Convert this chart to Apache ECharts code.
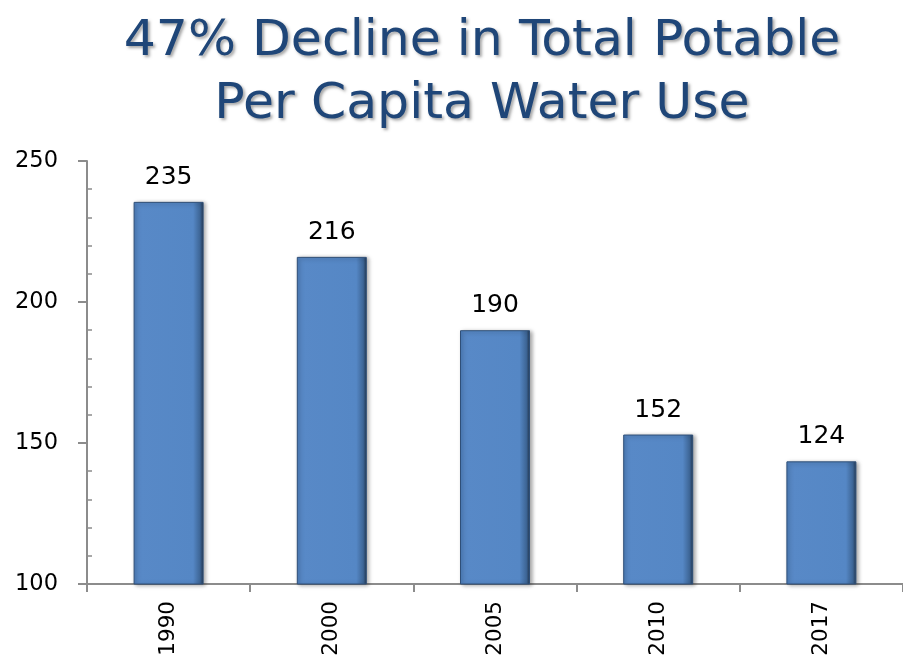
<!DOCTYPE html>
<html><head><meta charset="utf-8">
<script src="https://cdn.jsdelivr.net/npm/echarts@6/dist/echarts.min.js"></script>
<style>html,body{margin:0;padding:0;background:#fff}#c{width:903px;height:660px}</style>
</head><body><div id="c"></div>
<script>
var categories = ['1990', '2000', '2005', '2010', '2017'];
var values = [235.5, 216, 190, 153, 143.5];
var valueLabels = ['235', '216', '190', '152', '124'];
var titleText = '47% Decline in Total Potable\nPer Capita Water Use';

var chart = echarts.init(document.getElementById('c'));
var barColor = new echarts.graphic.LinearGradient(0, 0, 1, 0, [
  {offset: 0, color: '#4a7bb8'},
  {offset: 0.06, color: '#5889c7'},
  {offset: 0.85, color: '#5587c5'},
  {offset: 0.95, color: '#3d6595'},
  {offset: 1, color: '#22364f'}
]);
chart.setOption({
  animation: false,
  title: {
    text: titleText,
    left: 477, top: 5, textAlign: 'center',
    textStyle: {
      fontFamily: 'DejaVu Sans', fontWeight: 'normal', fontSize: 50.5, lineHeight: 63,
      color: '#1f4678', textShadowColor: 'rgba(0,0,0,0.35)', textShadowBlur: 3,
      textShadowOffsetX: 2, textShadowOffsetY: 2
    }
  },
  grid: {left: 87, right: -6, top: 161, bottom: 76, containLabel: false},
  xAxis: {
    type: 'category', data: categories,
    axisLine: {lineStyle: {color: '#8c8c8c', width: 2}},
    axisTick: {show: true, length: 8, alignWithLabel: false, lineStyle: {color: '#8c8c8c', width: 2}},
    axisLabel: {rotate: 90, margin: 17, fontFamily: 'DejaVu Sans', fontSize: 21.5, color: '#000'}
  },
  yAxis: {
    type: 'value', min: 100, max: 250, interval: 50,
    axisLine: {show: true, lineStyle: {color: '#8c8c8c', width: 2}},
    axisTick: {show: true, length: 9, lineStyle: {color: '#8c8c8c', width: 2}},
    minorTick: {show: true, splitNumber: 5, length: -5, lineStyle: {color: '#8c8c8c', width: 1.5}},
    splitLine: {show: false},
    axisLabel: {margin: 29, fontFamily: 'DejaVu Sans', fontSize: 22.5, color: '#000'}
  },
  series: [{
    type: 'bar', data: values, barWidth: 70,
    itemStyle: {color: barColor, borderColor: '#2f4f78', borderWidth: 1,
      shadowColor: 'rgba(0,0,0,0.35)', shadowBlur: 4, shadowOffsetX: 2, shadowOffsetY: 1},
    label: {
      show: true, position: 'top', distance: 12,
      fontFamily: 'DejaVu Sans', fontSize: 25, color: '#000',
      formatter: function (p) { return valueLabels[p.dataIndex]; }
    }
  }]
});
</script></body></html>
